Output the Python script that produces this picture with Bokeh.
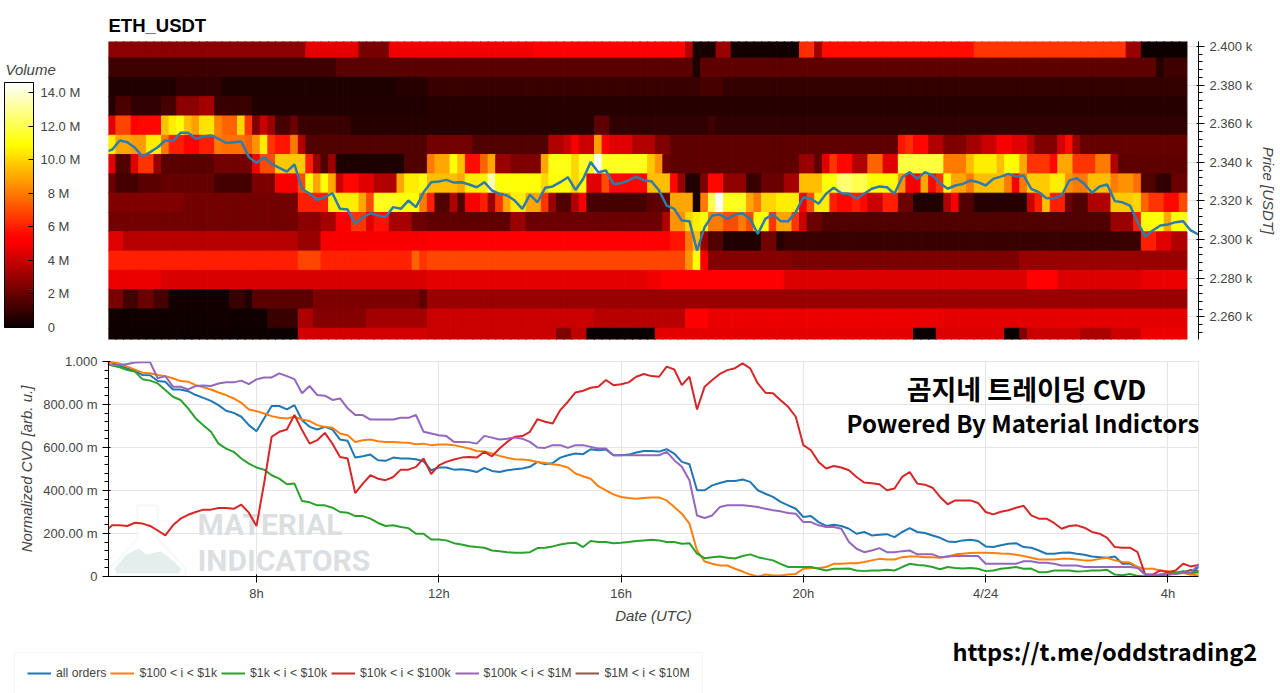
from bokeh.embed import file_html
from bokeh.layouts import column, row
from bokeh.models import (ColorBar, ColumnDataSource, FixedTicker, Label, Legend, LegendItem,
                          LinearColorMapper, PolyAnnotation, Range1d)
from bokeh.plotting import figure
from bokeh.resources import INLINE
from bokeh.transform import transform

# heatmap rows, top to bottom: (number of 10 min cells, volume in M)
vol_2399 = [(26, 2.7), (7, 4.6), (4, 2.3), (19, 4.8), (20, 5.3), (1, 3.5), (3, .3), (2, 3), (9, .2), (2, 6.3), (1, 3),
            (20, 5.6), (20, 6.5), (2, 3), (6, .1)]
vol_2389 = [(30, 1.1), (46, 1.7), (1, 1.7), (1, .4), (60, 1.8), (1, .6), (3, 1.1)]
vol_2379 = [(9, .5), (6, .8), (23, .4), (4, .6), (36, 1.0), (3, 1.3), (61, .9)]
vol_2369 = [(1, .6), (2, 1.4), (4, .8), (2, 1.3), (3, 2.7), (2, 3.2), (5, 1.0), (23, .5), (100, .6)]
vol_2359 = [(1, 4.5), (2, 6.8), (1, 5.2), (3, 5.5), (1, 9.6), (1, 10.5), (1, 11), (1, 9.5), (1, 8.8), (2, 10.3), (1, 8.2),
            (2, 7.5), (1, 10), (1, 6.5), (1, 2.5), (1, 4), (1, 3), (2, 1.3), (1, 2), (7, 1), (10, .6),
            (22, .6), (2, 1.8), (13, .8), (1, 1.1), (62, .8)]
vol_2349 = [(1, 10.5), (2, 9), (2, 8.7), (2, 10.5), (1, 8), (2, 6), (2, 5.2), (2, 6), (1, 8), (3, 7.8), (1, 7.5), (1, 8.5),
            (1, 10.5), (1, 6.5), (2, 5.8), (1, 8), (1, 3.5), (16, 1.5),
            (6, 2.2), (10, 1.5), (2, 3.5), (1, 4), (1, 5), (2, 4), (1, 8.8), (1, 5), (3, 4.5), (3, 3.5), (2, 2.5), (30, 1.8),
            (1, 5.8), (1, 6.3), (2, 5.5), (2, 3.5), (3, 2.5), (2, 3.2), (2, 4), (2, 5), (2, 4.5), (1, 3.5), (3, 2.5),
            (1, 4.2), (1, 5.6), (1, 3), (14, 1.9)]
vol_2339 = [(1, 4.5), (2, 1.5), (1, 4.5), (2, 6.5), (1, 3), (7, 1.7), (5, 2.2), (1, 5), (2, 7), (4, 9.7), (1, 6), (1, 3),
            (1, 1.5), (1, 3), (9, .4), (3, 1.5),
            (1, 8), (2, 9), (1, 11), (1, 9.5), (2, 5.6), (1, 7.5), (1, 9), (2, 3), (4, 2.5), (1, 9), (3, 11.2), (1, 10),
            (2, 11.5), (1, 14.5), (6, 11.3), (1, 9.7), (1, 8.5), (1, 2), (17, 1.8), (2, 3), (1, 1.8), (1, 4.5), (1, 6.5),
            (2, 5.5), (2, 3.5), (2, 7.5), (2, 4.5), (6, 11.8), (3, 8), (1, 9.5), (3, 10.5), (1, 9.5), (2, 10.8), (1, 9),
            (3, 6.5), (1, 5.5), (2, 9), (3, 6.5), (2, 8), (1, 3.5), (9, 1.8)]
vol_2329 = [(1, 2), (3, 1.2), (3, 1.7), (7, 1.9), (5, 1.2), (3, 2.4), (3, 5), (1, 7), (1, 11), (1, 9), (1, 11), (1, 9), (1, 4),
            (2, 5.5), (2, 4.5), (3, 3.5), (1, 9), (2, 10.5), (1, 11),
            (4, 9.5), (1, 9), (3, 10.5), (1, 13.5), (6, 11), (1, 10), (3, 11), (1, 10), (1, 11), (2, 4.5), (1, 7), (5, 5.5),
            (3, 9.5), (1, 5.5), (1, 3), (2, .5), (1, 2.5), (2, 5.5), (3, 2.8), (2, 1), (3, 2), (2, 3.2), (3, 9.5), (2, 11),
            (2, 12.5), (2, 12), (4, 10.8), (1, 8.5), (2, 5), (1, 9), (1, 5.5), (1, 6.5), (1, 11), (2, 9), (1, 8), (4, 9.5),
            (1, 8), (1, 5), (1, 8), (3, 9.8), (2, 10.5), (1, 8.5), (2, 8), (3, 9.5), (1, 8), (2, 8.5), (1, 7.7), (2, 1.5),
            (2, .8), (2, 2)]
vol_2319 = [(10, 2.5), (15, 2.2), (4, 6), (4, 10.5), (1, 9), (1, 7), (3, 11.3), (3, 11), (1, 8),
            (1, 6), (2, 1.5), (1, 3.5), (1, 1.5), (2, 5), (1, 6), (1, 3), (1, 6.5), (1, 9), (2, 10.5), (2, 9), (1, 6.5),
            (1, 3), (2, 1.5), (1, 3.5), (1, 5), (8, 1.3), (3, 1.8), (2, 9), (1, 9), (1, .3), (1, 8), (1, 12), (1, 14.5),
            (3, 11.3), (1, 9), (1, 8), (2, 10), (3, 10.5), (1, 5), (1, 7), (2, 10.5), (1, 6), (2, 5.5), (1, 6), (1, 5.5),
            (2, 4), (2, 6), (2, 2), (4, .5), (1, 3.5), (1, 5), (2, 1.5), (7, .6), (1, 4), (1, 6), (1, 9.5), (2, 6), (1, 2),
            (2, 1.5), (3, 3.5), (3, 9.7), (1, 10), (1, 7.5), (2, 6.5), (2, 5.5), (1, 7)]
vol_2309 = [(25, 2.2), (3, 2.7), (2, 3.2), (2, 5), (2, 6.5), (1, 4.5), (2, 5.7), (3, 3.3), (2, 2),
            (11, 1.8), (2, 3), (18, 2), (1, 3.5), (2, 8.5), (1, 10), (1, 10.5), (1, 11), (2, 8), (2, 7), (1, 8), (1, 7),
            (2, 11), (1, 6.5), (2, 9), (1, 6.5), (1, 4), (2, 2), (38, 1.5), (3, 3), (1, 6), (3, 11), (1, 9), (2, 11)]
vol_2299 = [(2, 4.5), (23, 3.6), (3, 3), (14, 5),
            (32, 5.2), (2, 5.8), (1, 8), (1, 9.5), (1, 3), (2, 1.5), (5, .5), (2, 2.2), (1, .6), (47, 1), (2, 6), (2, 4.5),
            (2, 3.5)]
vol_2289 = [(25, 6), (3, 6.8), (12, 6.1), (1, 7.5), (1, 6.5), (34, 6.9), (1, 8.5), (1, 11), (1, 5), (11, 2.6), (30, 2.4), (22, 3)]
vol_2279 = [(7, 4.7), (35, 4.3), (29, 4.6), (2, 4.8), (16, 5.1), (32, 4.4), (4, 5.4), (11, 4.4), (6, 4.7)]
vol_2269 = [(2, 2.3), (2, 1.2), (2, 2), (2, 1.3), (8, .2), (2, 1), (1, .5), (8, 1.7), (14, 2.4), (1, 1.8), (100, 3)]
vol_2259 = [(21, .15), (4, 1), (2, 3.4), (7, 2.6), (8, 3.2), (22, 4), (12, 3.7), (3, 5.2), (31, 4.7), (32, 4.6)]
vol_2249 = [(25, .1), (17, 4.2), (17, 4), (2, 2.5), (2, 3.8), (9, .05), (34, 4.6), (3, .05), (9, 4.4), (2, .05), (1, 2.5),
            (7, 4), (4, 3.4), (4, 4), (6, 4.7)]

price_centers = [2399, 2389, 2379, 2369, 2359, 2349, 2339, 2329, 2319, 2309, 2299, 2289, 2279, 2269, 2259, 2249]
price_rows = [vol_2399, vol_2389, vol_2379, vol_2369, vol_2359, vol_2349, vol_2339, vol_2329, vol_2319, vol_2309,
              vol_2299, vol_2289, vol_2279, vol_2269, vol_2259, vol_2249]

# price line, one value per 10 min from 4:40
price = [2345.3, 2346.6, 2351.3, 2350.4, 2347.5, 2343, 2345.3, 2347.8, 2351.3, 2351,
         2355.3, 2355.3, 2352.2, 2353.4, 2353.9, 2352.2, 2350, 2350.4, 2350.8, 2342.7,
         2339.6, 2342.7, 2339.2, 2337.1, 2335.2, 2338.9, 2326.3, 2323.7, 2320.6, 2321.9,
         2324, 2315.9, 2315.5, 2308.1, 2311.6, 2313.6, 2312.4, 2311.6, 2316.8, 2315.9,
         2320.2, 2316.8, 2324.5, 2329.7, 2330.1, 2330.9, 2329.5, 2329.7, 2328.5, 2327.1,
         2329.7, 2325.4, 2323.7, 2322.8, 2320.2, 2315.9, 2323.3, 2319.3, 2326.8, 2327.5,
         2329.7, 2332.3, 2325.7, 2331.4, 2340.1, 2334.9, 2335.8, 2328.8, 2329.2, 2330.6,
         2332.6, 2330.6, 2330.2, 2325.4, 2317.6, 2315.9, 2309.8, 2309.5, 2294.3, 2306.4,
         2312.4, 2313, 2310.7, 2313, 2313.6, 2310.7, 2302.9, 2310.7, 2313, 2309.5,
         2309.5, 2314.2, 2321.9, 2321.1, 2318.5, 2323.7, 2326.8, 2324, 2323.7, 2321.1,
         2323.7, 2326.3, 2327.5, 2327.1, 2323.7, 2332.3, 2334.9, 2331.4, 2334.9, 2333.2,
         2329.2, 2326.3, 2328, 2328.8, 2330.6, 2329.7, 2328, 2331.4, 2332.6, 2334,
         2332.6, 2333.2, 2326.3, 2324.5, 2321.4, 2321.4, 2322.8, 2330.6, 2331.8, 2328.8,
         2324.2, 2327.5, 2328.5, 2319.9, 2319.3, 2317.6, 2309, 2301.6, 2304.7, 2307.3,
         2307.8, 2309, 2309.5, 2304.7, 2302.6, 2302]

# normalized cvd, same time steps
cvd_all = [.995, .995, .981, .968, .957, .937, .936, .909, .906, .870,
           .870, .862, .844, .831, .817, .797, .771, .761, .743, .704,
           .676, .735, .793, .793, .777, .797, .727, .696, .684, .696,
           .684, .637, .631, .553, .559, .567, .541, .538, .553, .549,
           .549, .545, .536, .494, .507, .507, .497, .499, .494, .486,
           .505, .491, .486, .494, .499, .502, .510, .533, .522, .528,
           .553, .564, .572, .569, .592, .587, .591, .564, .564, .567,
           .577, .584, .584, .581, .592, .572, .533, .522, .401, .401,
           .424, .435, .444, .444, .451, .440, .401, .385, .370, .347,
           .331, .315, .277, .281, .253, .235, .241, .235, .222, .199,
           .207, .191, .194, .197, .183, .207, .225, .207, .202, .191,
           .180, .163, .160, .168, .171, .165, .140, .137, .145, .152,
           .155, .137, .134, .121, .106, .106, .110, .112, .106, .101,
           .093, .090, .087, .093, .059, .059, .044, .009, .005, .005,
           .009, .016, .022, .009, .044, .044]
cvd_100_1k = [.995, .999, .990, .976, .962, .948, .945, .937, .932, .922,
              .909, .906, .890, .880, .870, .856, .844, .828, .808, .777,
              .769, .758, .746, .738, .735, .743, .730, .723, .704, .696,
              .692, .665, .657, .626, .634, .637, .629, .626, .626, .623,
              .622, .615, .618, .611, .614, .614, .611, .603, .595, .584,
              .581, .572, .561, .552, .545, .544, .541, .533, .528, .522,
              .517, .507, .479, .466, .455, .420, .401, .382, .370, .365,
              .362, .365, .367, .368, .354, .323, .292, .246, .121, .070,
              .059, .051, .051, .036, .023, .009, 0, .009, .005, .005,
              .009, .012, .036, .039, .040, .044, .059, .059, .062, .062,
              .067, .075, .082, .079, .079, .090, .093, .093, .090, .090,
              .087, .093, .103, .106, .109, .110, .110, .109, .107, .106,
              .101, .095, .087, .079, .079, .079, .082, .082, .079, .075,
              .075, .082, .087, .075, .068, .065, .044, .036, .036, .028,
              .025, .020, .016, .009, .005, .005]
cvd_1k_10k = [.995, .981, .973, .960, .953, .917, .911, .898, .867, .836,
              .821, .782, .735, .704, .673, .618, .595, .580, .549, .525,
              .507, .497, .471, .455, .429, .432, .351, .345, .331, .331,
              .320, .300, .297, .281, .281, .269, .249, .235, .238, .230,
              .225, .199, .199, .172, .172, .168, .155, .149, .141, .137,
              .134, .121, .117, .113, .110, .110, .113, .132, .134, .140,
              .149, .155, .157, .137, .165, .160, .160, .155, .157, .160,
              .165, .168, .171, .168, .160, .160, .152, .155, .106, .085,
              .090, .093, .087, .084, .095, .103, .090, .082, .075, .059,
              .044, .044, .044, .044, .036, .028, .036, .036, .037, .028,
              .025, .028, .028, .031, .028, .044, .059, .053, .051, .044,
              .034, .044, .040, .037, .040, .036, .025, .028, .036, .040,
              .044, .036, .037, .020, .020, .028, .028, .028, .023, .025,
              .028, .028, .031, .009, .006, .012, .003, 0, .001, .009,
              .016, .016, .025, .016, .019, .019]
cvd_10k_100k = [.207, .238, .238, .235, .250, .246, .235, .214, .191, .238,
                .269, .287, .300, .311, .311, .319, .319, .315, .334, .297,
                .235, .432, .650, .673, .684, .751, .681, .618, .634, .668,
                .618, .556, .549, .388, .432, .471, .455, .448, .463, .497,
                .497, .510, .549, .476, .517, .533, .544, .553, .556, .553,
                .580, .559, .595, .626, .650, .653, .673, .732, .720, .712,
                .774, .813, .856, .864, .878, .883, .914, .890, .894, .903,
                .929, .942, .932, .929, .976, .963, .890, .929, .777, .883,
                .914, .942, .960, .969, .991, .968, .898, .855, .852, .820,
                .789, .743, .611, .587, .533, .502, .514, .507, .494, .463,
                .437, .434, .429, .401, .409, .463, .486, .432, .427, .413,
                .370, .336, .354, .354, .354, .342, .300, .289, .301, .308,
                .320, .329, .284, .269, .269, .249, .222, .235, .238, .227,
                .207, .199, .180, .137, .134, .134, .113, .009, .009, .028,
                .020, .028, .059, .047, .054, .054]
cvd_100k_1m = [.984, .984, .984, .988, .995, .996, .996, .922, .932, .883,
               .883, .870, .886, .888, .886, .898, .903, .903, .911, .895,
               .917, .926, .926, .945, .932, .918, .852, .886, .844, .841,
               .821, .828, .782, .751, .751, .730, .730, .730, .730, .738,
               .738, .751, .673, .665, .657, .653, .626, .626, .625, .618,
               .654, .646, .637, .641, .646, .641, .626, .600, .598, .611,
               .611, .598, .611, .611, .603, .595, .595, .564, .564, .564,
               .564, .564, .564, .564, .580, .541, .510, .448, .284, .272,
               .284, .323, .331, .331, .331, .328, .323, .315, .308, .303,
               .295, .292, .253, .253, .238, .230, .230, .222, .160, .129,
               .113, .121, .132, .113, .113, .118, .121, .103, .103, .103,
               .090, .093, .095, .095, .095, .095, .059, .059, .059, .059,
               .059, .071, .071, .064, .064, .059, .051, .051, .051, .044,
               .044, .044, .044, .044, .044, .044, .040, .009, .005, .009,
               .009, .012, .016, .016, .056, .056]
# only the last hour shows anything of this one
cvd_1m_10m = [.010, .012, .020, .030, .025, .028]

series_names = ["all orders", "$100 < i < $1k", "$1k < i < $10k", "$10k < i < $100k", "$100k < i < $1M", "$1M < i < $10M"]
series_colors = ["#1f77b4", "#ff7f0e", "#2ca02c", "#d62728", "#9467bd", "#8c564b"]

x_ticks = [8, 12, 16, 20, 24, 28]
x_labels = ["8h", "12h", "16h", "20h", "4/24", "4h"]
price_ticks = [2260, 2280, 2300, 2320, 2340, 2360, 2380, 2400]
price_labels = ["2.260 k", "2.280 k", "2.300 k", "2.320 k", "2.340 k", "2.360 k", "2.380 k", "2.400 k"]
cvd_ticks = [0, .2, .4, .6, .8, 1]
cvd_labels = ["0", "200.00 m", "400.00 m", "600.00 m", "800.00 m", "1.000"]
vol_ticks = [0, 2, 4, 6, 8, 10, 12, 14]
vol_labels = ["\u00a0\u00a00", "\u00a0\u00a02 M", "\u00a0\u00a04 M", "\u00a0\u00a06 M", "\u00a0\u00a08 M", "10.0 M", "12.0 M", "14.0 M"]

FONT = "Liberation Sans"
TICK_COLOR = "#444444"
KR = "Noto Sans CJK KR"


def hot_palette():
    colors = []
    for n in range(256):
        f = n / 255
        r = min(1, .0416 + f / .365)
        g = max(0, min(1, (f - .365) / .381))
        b = max(0, (f - .746) / .254)
        colors.append("#%02x%02x%02x" % (int(r * 255), int(g * 255), int(b * 255)))
    return colors


mapper = LinearColorMapper(palette=hot_palette(), low=0, high=14.6)

lefts, rights, bottoms, tops, vols = [], [], [], [], []
for center, row_runs in zip(price_centers, price_rows):
    j = 0
    for count, vol in row_runs:
        for _ in range(count):
            lefts.append(4.75 + j / 6)
            rights.append(4.75 + (j + 1) / 6)
            bottoms.append(center - 5)
            tops.append(center + 5)
            vols.append(vol)
            j += 1
cells = ColumnDataSource(dict(left=lefts, right=rights, bottom=bottoms, top=tops, vol=vols))

times = [4 + 40 / 60 + i / 6 for i in range(len(price))]
x_range = Range1d(4.753, 28.67)

# colour bar gets a figure of its own, with everything inside its frame
p0 = figure(width=108, height=350, output_backend="svg", toolbar_location=None, x_axis_location=None, y_axis_location=None,
            x_range=Range1d(0, 108), y_range=Range1d(0, 298),
            min_border_left=0, min_border_right=0, min_border_top=41, min_border_bottom=11)
p0.grid.visible = False
p0.outline_line_color = None
bar = ColorBar(color_mapper=mapper, ticker=FixedTicker(ticks=vol_ticks), location=(4, 12),
               width=29, height=245, padding=0, margin=0,
               major_label_text_font=FONT, major_label_text_font_size="13px",
               major_label_text_color=TICK_COLOR, major_label_overrides=dict(zip(vol_ticks, vol_labels)),
               bar_line_color="black", major_tick_line_color="black", major_tick_in=5, label_standoff=7,
               background_fill_color=None, border_line_color=None)
p0.add_layout(bar)
p0.add_layout(Label(x=5, y=262, text="Volume", text_font=FONT, text_font_size="15px",
                    text_font_style="italic", text_color=TICK_COLOR))

# top panel
p1 = figure(width=1172, height=350, output_backend="svg", toolbar_location=None, x_range=x_range,
            y_range=Range1d(2248.2, 2402.6), x_axis_location=None, y_axis_location="right",
            min_border_left=0, min_border_right=82, min_border_top=41, min_border_bottom=11,
            title="ETH_USDT")
p1.title.text_font = FONT
p1.title.text_font_size = "18.5px"
p1.title.text_font_style = "bold"
p1.title.text_color = "black"
p1.title.offset = 0
p1.title.standoff = 12
p1.outline_line_color = None
p1.quad(left="left", right="right", bottom="bottom", top="top", source=cells,
        fill_color=transform("vol", mapper), line_color=transform("vol", mapper), line_width=1)
p1.line(times, price, line_color="#2e7cab", line_width=2.5)

p1.yaxis.ticker = FixedTicker(ticks=price_ticks, minor_ticks=list(range(2252, 2404, 4)))
p1.ygrid.ticker = FixedTicker(ticks=price_ticks)
p1.xgrid.visible = False
p1.yaxis.major_label_overrides = dict(zip(price_ticks, price_labels))
p1.yaxis.axis_label = "Price [USDT]"
p1.yaxis.axis_label_text_font = FONT
p1.yaxis.axis_label_text_font_size = "15px"
p1.yaxis.axis_label_text_font_style = "italic"
p1.yaxis.axis_label_text_color = TICK_COLOR
p1.yaxis.major_label_text_font = FONT
p1.yaxis.major_label_text_font_size = "13px"
p1.yaxis.major_label_text_color = TICK_COLOR

# bottom panel
p2 = figure(width=1280, height=285, output_backend="svg", toolbar_location=None, x_range=x_range,
            y_range=Range1d(0, 1), min_border_left=108, min_border_right=82, min_border_top=11, min_border_bottom=59)
p2.xaxis.ticker = FixedTicker(ticks=x_ticks)
p2.xgrid.ticker = FixedTicker(ticks=x_ticks)
p2.xaxis.major_label_overrides = dict(zip(x_ticks, x_labels))
p2.xaxis.major_label_standoff = 3
p2.xaxis.axis_label_standoff = 3
p2.yaxis.ticker = FixedTicker(ticks=cvd_ticks, minor_ticks=[n / 25 for n in range(26)])
p2.ygrid.ticker = FixedTicker(ticks=cvd_ticks)
p2.yaxis.major_label_overrides = dict(zip(cvd_ticks, cvd_labels))
p2.xaxis.axis_label = "Date (UTC)"
p2.yaxis.axis_label = "Normalized CVD [arb. u.]"
for ax in (p2.xaxis, p2.yaxis):
    ax.axis_label_text_font = FONT
    ax.axis_label_text_font_size = "15px"
    ax.axis_label_text_font_style = "italic"
    ax.axis_label_text_color = TICK_COLOR
    ax.major_label_text_font = FONT
    ax.major_label_text_font_size = "13px"
    ax.major_label_text_color = TICK_COLOR

# watermark sits under the lines
flask = PolyAnnotation(xs=[29, 49, 49, 77, 77, 2, 2, 29], ys=[71, 71, 38, 8, 0, 0, 8, 38], xs_units="screen", ys_units="screen",
                       fill_color="white", fill_alpha=1, line_color="#e6e8e8", line_width=2.5, level="underlay")
p2.add_layout(flask)
hill = PolyAnnotation(xs=[6, 18, 30, 38, 52, 62, 73, 70, 8], ys=[8, 22, 28, 22, 25, 18, 8, 3, 3], xs_units="screen", ys_units="screen",
                      fill_color="#e4eeed", fill_alpha=1, line_color=None, level="underlay")
p2.add_layout(hill)
for word, y in (("MATERIAL", 35), ("INDICATORS", -1)):
    p2.add_layout(Label(x=89, y=y, x_units="screen", y_units="screen", text=word, text_font="Roboto",
                        text_font_style="bold", text_font_size="30px", text_color="#dcdfe1", level="underlay"))

p2.line(times[-len(cvd_1m_10m):], cvd_1m_10m, line_color=series_colors[5], line_width=2)
for values, color in zip([cvd_all, cvd_100_1k, cvd_1k_10k, cvd_10k_100k, cvd_100k_1m], series_colors):
    p2.line(times, values, line_color=color, line_width=2)

p2.add_layout(Label(x=918, y=169, x_units="screen", y_units="screen", text="곰지네 트레이딩 CVD", text_font=KR,
                    text_font_style="bold", text_font_size="27px", text_color="black", text_align="center"))
p2.add_layout(Label(x=738, y=137, x_units="screen", y_units="screen", text="Powered By Material Indictors", text_font=KR,
                    text_font_style="bold", text_font_size="24px", text_color="black"))

# strip under the plots: legend keys and the link
p3 = figure(width=1280, height=58, output_backend="svg", toolbar_location=None, x_range=Range1d(0, 1280), y_range=Range1d(0, 58),
            x_axis_location=None, y_axis_location=None, min_border=0)
p3.grid.visible = False
p3.outline_line_color = None
# keys only: these lie left of the strip's range, so just the legend shows them
keys = [p3.line([-20, -10], [-5, -5], line_color=c, line_width=2) for c in series_colors]
legend = Legend(items=[LegendItem(label=n, renderers=[r]) for n, r in zip(series_names, keys)],
                orientation="horizontal", location=(14, -1), margin=0, padding=12, spacing=4, glyph_width=24,
                glyph_height=16, label_standoff=5, label_text_font=FONT, label_text_font_size="12.25px",
                label_text_color=TICK_COLOR, border_line_color="#eeeeee", label_height=16)
p3.add_layout(legend)
p3.add_layout(Label(x=952, y=43, text="https://t.me/oddstrading2", text_font=KR, text_baseline="middle",
                    text_font_style="bold", text_font_size="23.6px", text_color="black"))

page = column(row(p0, p1, spacing=0), p2, row(p3, spacing=0), spacing=0)
open("out.html", "w").write(file_html(page, INLINE))
